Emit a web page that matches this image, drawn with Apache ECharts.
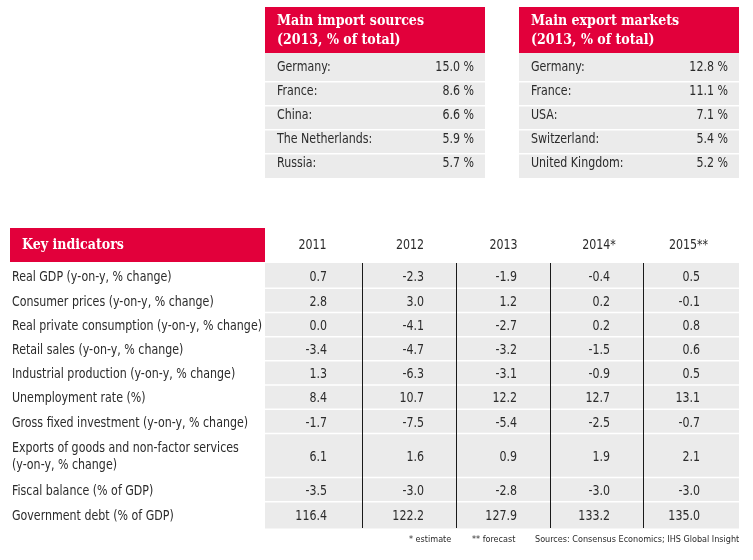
<!DOCTYPE html>
<html><head><meta charset="utf-8">
<script src="https://cdn.jsdelivr.net/npm/echarts@6/dist/echarts.min.js"></script>
<style>html,body{margin:0;padding:0;background:#fff}#c{width:753px;height:560px}</style>
</head><body><div id="c"></div>
<script>
// ---------- data ----------
const importTitle = ['Main import sources', '(2013, % of total)'];
const importCountries = ['Germany:', 'France:', 'China:', 'The Netherlands:', 'Russia:'];
const importShares = [15.0, 8.6, 6.6, 5.9, 5.7];
const exportTitle = ['Main export markets', '(2013, % of total)'];
const exportCountries = ['Germany:', 'France:', 'USA:', 'Switzerland:', 'United Kingdom:'];
const exportShares = [12.8, 11.1, 7.1, 5.4, 5.2];
const kiTitle = 'Key indicators';
const years = ['2011', '2012', '2013', '2014*', '2015**'];
const indicators = [
  'Real GDP (y-on-y, % change)',
  'Consumer prices (y-on-y, % change)',
  'Real private consumption (y-on-y, % change)',
  'Retail sales (y-on-y, % change)',
  'Industrial production (y-on-y, % change)',
  'Unemployment rate (%)',
  'Gross fixed investment (y-on-y, % change)',
  'Exports of goods and non-factor services\n(y-on-y, % change)',
  'Fiscal balance (% of GDP)',
  'Government debt (% of GDP)'
];
const v2011 = [0.7, 2.8, 0.0, -3.4, 1.3, 8.4, -1.7, 6.1, -3.5, 116.4];
const v2012 = [-2.3, 3.0, -4.1, -4.7, -6.3, 10.7, -7.5, 1.6, -3.0, 122.2];
const v2013 = [-1.9, 1.2, -2.7, -3.2, -3.1, 12.2, -5.4, 0.9, -2.8, 127.9];
const v2014 = [-0.4, 0.2, 0.2, -1.5, -0.9, 12.7, -2.5, 1.9, -3.0, 133.2];
const v2015 = [0.5, -0.1, 0.8, 0.6, 0.5, 13.1, -0.7, 2.1, -3.0, 135.0];
const footnotes = ['* estimate', '** forecast', 'Sources: Consensus Economics; IHS Global Insight'];

// ---------- styles / layout ----------
const RED = '#E2003B', GRAY = '#EBEBEB', TXT = '#2b2b2b', LINE = '#1a1a1a';
const SANS = '"DejaVu Sans Condensed", "Liberation Sans Narrow", Roboto, sans-serif';
const SERIF = '"DejaVu Serif Condensed", "DejaVu Serif", serif';
const FS = 13.5;
const HEAD_FONT = 'bold 15px ' + SERIF;
const BODY_FONT = FS + 'px ' + SANS;
const GAP = 1.5;

// text-fitting (layout): target widths in px for reference strings
const ctx = document.createElement('canvas').getContext('2d');
function fitScale(font, text, target) { ctx.font = font; return target / ctx.measureText(text).width; }
const headScale = fitScale(HEAD_FONT, 'Main import sources', 147);
const bodyScale = fitScale(BODY_FONT, 'Real private consumption (y-on-y, % change)', 250);

// small boxes (local pixel units)
const boxW = 220, boxH = 171, boxHead = 46, boxSep0 = 74, boxPitch = 24, boxTextY0 = 60;
// key indicators
const kiW = 729, kiH = 300, kiHead = 34, kiBodyTop = 35, kiRedW = 255;
const kiColX = [255, 353, 447, 541, 634, 729];
const kiValRight = [317, 414, 507, 600, 690];
const kiHeadCenter = [302.5, 400, 493.5, 589, 678.5];
const kiRowH = [26, 24.2, 24.2, 24.2, 24.2, 24.2, 24.2, 44, 24.2, 26];
const footLeft = [409, 472, 535];

const chart = echarts.init(document.getElementById('c'), null, {renderer: 'canvas'});

function pxAxes(idx, w, h) {
  return {
    x: {type: 'value', gridIndex: idx, min: 0, max: w, show: false},
    y: {type: 'value', gridIndex: idx, min: 0, max: h, inverse: true, show: false}
  };
}
const a0 = pxAxes(0, boxW, boxH), a1 = pxAxes(1, boxW, boxH), a2 = pxAxes(2, kiW, kiH);

function headText(x, y, text) {
  return {type: 'text', x: x, y: y, scaleX: headScale, style: {text: text, fill: '#fff', font: HEAD_FONT, verticalAlign: 'middle'}};
}
function bodyText(x, y, text, align, extra) {
  const st = Object.assign({text: text, fill: TXT, font: BODY_FONT, align: align || 'left', verticalAlign: 'middle'}, extra || {});
  return {type: 'text', x: x, y: y, scaleX: bodyScale, style: st};
}
function boxHeaderSeries(idx, title) {
  return {
    type: 'custom', xAxisIndex: idx, yAxisIndex: idx, data: [[0, 0]], silent: true,
    renderItem: function (params, api) {
      const p0 = api.coord([0, 0]), p1 = api.coord([boxW, boxHead]);
      return {type: 'group', children: [
        {type: 'rect', shape: {x: p0[0], y: p0[1], width: p1[0] - p0[0], height: p1[1] - p0[1]}, style: {fill: RED}},
        headText(p0[0] + 12, p0[1] + 14, title[0]),
        headText(p0[0] + 12, p0[1] + 33, title[1])
      ]};
    }
  };
}
function boxBodySeries(idx, names, shares) {
  return {
    type: 'custom', xAxisIndex: idx, yAxisIndex: idx, silent: true,
    data: shares.map((v, i) => [i, v]),
    renderItem: function (params, api) {
      const i = api.value(0), v = api.value(1);
      const n = shares.length;
      const top = i === 0 ? boxHead : boxSep0 + boxPitch * (i - 1) + GAP;
      const bot = i === n - 1 ? boxH : boxSep0 + boxPitch * i;
      const p0 = api.coord([0, top]), p1 = api.coord([boxW, bot]);
      const ty = api.coord([0, boxTextY0 + boxPitch * i])[1] + 0.5;
      return {type: 'group', children: [
        {type: 'rect', shape: {x: p0[0], y: p0[1], width: p1[0] - p0[0], height: p1[1] - p0[1]}, style: {fill: GRAY}},
        bodyText(p0[0] + 12, ty, names[i], 'left'),
        bodyText(p1[0] - 11, ty, v.toFixed(1) + ' %', 'right')
      ]};
    }
  };
}
function kiSpan(r) {
  let t = kiBodyTop;
  for (let k = 0; k < r; k++) t += kiRowH[k];
  return [t, t + kiRowH[r]];
}
const kiCols = [v2011, v2012, v2013, v2014, v2015];
const kiCells = [];
kiCols.forEach((col, c) => col.forEach((v, r) => kiCells.push([c, r, v])));

const option = {
  animation: false,
  backgroundColor: '#fff',
  grid: [
    {left: 265, top: 7, width: boxW, height: boxH},
    {left: 519, top: 7, width: boxW, height: boxH},
    {left: 10, top: 228, width: kiW, height: kiH}
  ],
  xAxis: [a0.x, a1.x, a2.x],
  yAxis: [a0.y, a1.y, a2.y],
  title: footnotes.map((t, i) => ({
    text: t, left: footLeft[i], top: 535, padding: 0,
    textStyle: {fontFamily: SANS, fontSize: 9, fontWeight: 'normal', color: TXT}
  })),
  series: [
    boxHeaderSeries(0, importTitle),
    boxBodySeries(0, importCountries, importShares),
    boxHeaderSeries(1, exportTitle),
    boxBodySeries(1, exportCountries, exportShares),
    // key indicators header
    {
      type: 'custom', xAxisIndex: 2, yAxisIndex: 2, silent: true, data: [[0, 0]],
      renderItem: function (params, api) {
        const p0 = api.coord([0, 0]), p1 = api.coord([kiRedW, kiHead]);
        return {type: 'group', children: [
          {type: 'rect', shape: {x: p0[0], y: p0[1], width: p1[0] - p0[0], height: p1[1] - p0[1]}, style: {fill: RED}},
          headText(p0[0] + 12, (p0[1] + p1[1]) / 2, kiTitle)
        ]};
      }
    },
    // year headers
    {
      type: 'custom', xAxisIndex: 2, yAxisIndex: 2, silent: true,
      data: years.map((y, i) => [i, 0]),
      renderItem: function (params, api) {
        const i = api.value(0);
        const p = api.coord([kiHeadCenter[i], kiHead / 2]);
        return bodyText(p[0], p[1], years[i], 'center');
      }
    },
    // value cells
    {
      type: 'custom', xAxisIndex: 2, yAxisIndex: 2, silent: true,
      data: kiCells,
      renderItem: function (params, api) {
        const c = api.value(0), r = api.value(1), v = api.value(2);
        const s = kiSpan(r);
        const bot = r < kiRowH.length - 1 ? s[1] - GAP : s[1];
        const p0 = api.coord([kiColX[c], s[0]]), p1 = api.coord([kiColX[c + 1], bot]);
        const pm = api.coord([kiValRight[c], (s[0] + s[1]) / 2]);
        return {type: 'group', children: [
          {type: 'rect', shape: {x: p0[0], y: p0[1], width: p1[0] - p0[0], height: p1[1] - p0[1]}, style: {fill: GRAY}},
          bodyText(pm[0], pm[1] + 1, v.toFixed(1), 'right')
        ]};
      }
    },
    // indicator labels
    {
      type: 'custom', xAxisIndex: 2, yAxisIndex: 2, silent: true,
      data: indicators.map((s, i) => [i, 0]),
      renderItem: function (params, api) {
        const r = api.value(0);
        const s = kiSpan(r);
        const p = api.coord([2, (s[0] + s[1]) / 2]);
        return bodyText(p[0], p[1] + 1, indicators[r], 'left', {lineHeight: 17});
      }
    },
    // column divider lines
    {
      type: 'custom', xAxisIndex: 2, yAxisIndex: 2, silent: true, z: 5,
      data: years.slice(1).map((y, i) => [i + 1, 0]),
      renderItem: function (params, api) {
        const c = api.value(0);
        const p0 = api.coord([kiColX[c], kiBodyTop]), p1 = api.coord([kiColX[c], kiH]);
        return {type: 'rect', shape: {x: Math.floor(p0[0]) - 1, y: p0[1], width: 1, height: p1[1] - p0[1]}, style: {fill: LINE}};
      }
    }
  ]
};
chart.setOption(option);
</script>
</body></html>
